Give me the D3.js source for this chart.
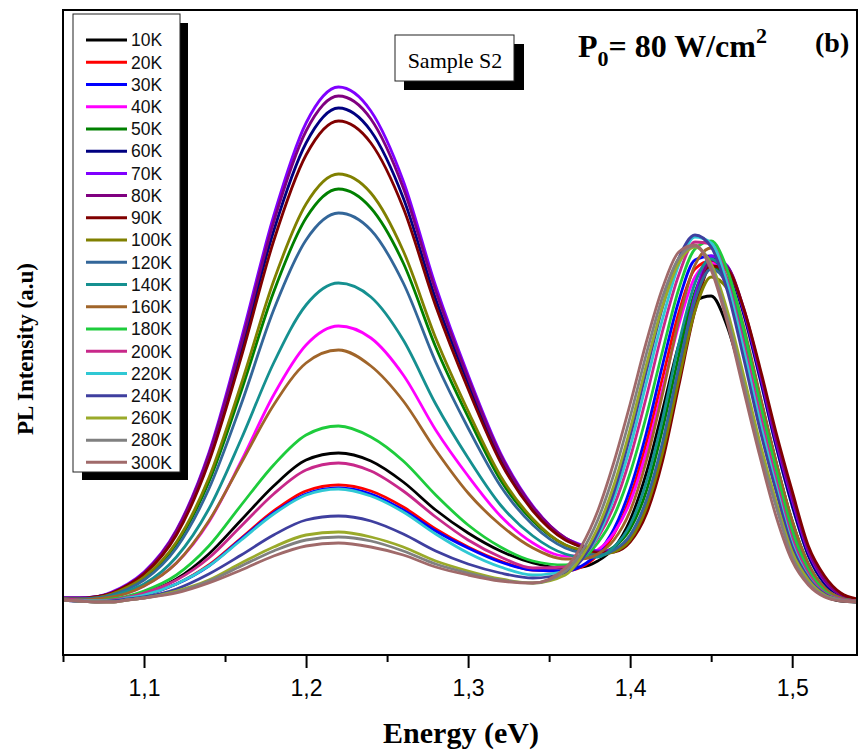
<!DOCTYPE html>
<html><head><meta charset="utf-8">
<script src="https://cdn.jsdelivr.net/npm/d3@7"></script>
<style>body{margin:0;background:#fff} svg{display:block}</style>
</head><body>
<svg id="chart" width="858" height="752"></svg>
<script>
// Photon energy grid (eV)
const energy = [1.05,1.06,1.07,1.08,1.09,1.10,1.12,1.14,1.16,1.18,1.20,1.22,1.24,1.26,1.28,1.30,1.32,1.34,1.36,1.37,1.38,1.39,1.40,1.41,1.42,1.43,1.44,1.45,1.46,1.47,1.48,1.49,1.50,1.51,1.52,1.53,1.54];

// PL intensity (a.u.) per temperature
const s10K  = [0.03,0.02,0.01,0.02,0.05,0.09,0.23,0.48,0.82,1.16,1.42,1.49,1.41,1.20,0.92,0.69,0.51,0.39,0.34,0.35,0.41,0.54,0.82,1.29,1.92,2.57,3.01,3.06,2.75,2.19,1.55,0.98,0.48,0.19,0.06,0.01,0.00];
const s20K  = [0.02,0.01,0.01,0.02,0.04,0.07,0.18,0.37,0.64,0.91,1.11,1.17,1.11,0.95,0.73,0.55,0.41,0.32,0.31,0.35,0.47,0.68,1.05,1.59,2.24,2.89,3.33,3.41,3.14,2.59,1.93,1.29,0.72,0.33,0.12,0.04,0.01];
const s30K  = [0.02,0.01,0.01,0.02,0.04,0.07,0.18,0.36,0.63,0.89,1.08,1.14,1.08,0.92,0.71,0.54,0.40,0.32,0.31,0.36,0.49,0.73,1.13,1.69,2.37,3.01,3.42,3.46,3.13,2.56,1.88,1.24,0.66,0.30,0.11,0.03,0.01];
const s40K  = [0.03,0.02,0.02,0.05,0.09,0.16,0.39,0.80,1.41,2.07,2.57,2.76,2.64,2.27,1.72,1.26,0.86,0.59,0.46,0.46,0.52,0.69,1.00,1.50,2.13,2.77,3.25,3.39,3.15,2.62,1.95,1.31,0.72,0.33,0.12,0.04,0.01];
const s50K  = [0.03,0.03,0.04,0.08,0.14,0.24,0.58,1.20,2.11,3.10,3.84,4.13,3.94,3.39,2.55,1.85,1.22,0.81,0.57,0.51,0.49,0.55,0.73,1.11,1.73,2.46,3.10,3.36,3.19,2.71,2.06,1.40,0.81,0.38,0.14,0.04,0.01];
const s60K  = [0.04,0.04,0.05,0.09,0.17,0.28,0.69,1.43,2.52,3.71,4.59,4.94,4.71,4.04,3.03,2.19,1.43,0.93,0.63,0.55,0.50,0.52,0.63,0.94,1.50,2.29,3.03,3.43,3.33,2.88,2.24,1.56,0.96,0.46,0.18,0.05,0.01];
const s70K  = [0.04,0.04,0.05,0.10,0.18,0.30,0.72,1.49,2.63,3.86,4.79,5.15,4.91,4.21,3.16,2.27,1.49,0.96,0.64,0.57,0.51,0.52,0.63,0.95,1.51,2.31,3.06,3.46,3.36,2.92,2.29,1.61,1.02,0.50,0.21,0.07,0.02];
const s80K  = [0.04,0.04,0.05,0.09,0.17,0.29,0.71,1.47,2.58,3.80,4.71,5.06,4.83,4.14,3.11,2.24,1.47,0.95,0.64,0.56,0.50,0.52,0.62,0.92,1.47,2.24,3.00,3.42,3.35,2.94,2.32,1.64,1.05,0.52,0.22,0.07,0.02];
const s90K  = [0.03,0.03,0.05,0.09,0.17,0.28,0.67,1.40,2.45,3.61,4.47,4.81,4.59,3.94,2.96,2.13,1.40,0.91,0.62,0.55,0.49,0.50,0.60,0.88,1.41,2.16,2.91,3.36,3.32,2.94,2.35,1.70,1.11,0.56,0.26,0.09,0.03];
const s100K = [0.03,0.03,0.04,0.08,0.15,0.25,0.60,1.24,2.18,3.21,3.98,4.28,4.09,3.51,2.64,1.91,1.26,0.83,0.57,0.52,0.47,0.50,0.62,0.94,1.49,2.22,2.91,3.25,3.13,2.67,2.05,1.39,0.81,0.37,0.14,0.04,0.01];
const s120K = [0.03,0.03,0.04,0.07,0.13,0.22,0.54,1.13,1.98,2.92,3.62,3.89,3.72,3.19,2.40,1.74,1.16,0.77,0.54,0.49,0.47,0.52,0.67,1.02,1.60,2.35,3.02,3.33,3.18,2.70,2.05,1.39,0.79,0.36,0.13,0.04,0.01];
const s140K = [0.03,0.02,0.03,0.06,0.11,0.18,0.45,0.93,1.63,2.39,2.97,3.19,3.05,2.62,1.98,1.44,0.97,0.66,0.48,0.45,0.45,0.55,0.77,1.20,1.83,2.58,3.19,3.43,3.23,2.73,2.06,1.40,0.80,0.37,0.14,0.04,0.01];
const s160K = [0.03,0.02,0.03,0.05,0.09,0.16,0.39,0.81,1.39,1.97,2.39,2.52,2.36,2.01,1.52,1.09,0.77,0.54,0.43,0.43,0.48,0.62,0.91,1.41,2.08,2.82,3.37,3.54,3.30,2.76,2.08,1.41,0.81,0.38,0.14,0.04,0.01];
const s180K = [0.03,0.02,0.01,0.03,0.06,0.11,0.27,0.56,0.97,1.37,1.67,1.76,1.65,1.41,1.07,0.77,0.55,0.41,0.37,0.43,0.59,0.86,1.29,1.86,2.51,3.13,3.53,3.61,3.32,2.73,2.00,1.33,0.71,0.32,0.11,0.03,0.01];
const s200K = [0.03,0.02,0.01,0.02,0.05,0.09,0.22,0.44,0.76,1.08,1.32,1.39,1.31,1.11,0.85,0.62,0.45,0.34,0.35,0.44,0.64,0.96,1.44,2.05,2.71,3.27,3.60,3.58,3.21,2.59,1.88,1.22,0.63,0.28,0.09,0.03,0.01];
const s220K = [0.02,0.01,0.01,0.01,0.04,0.07,0.18,0.36,0.62,0.88,1.07,1.13,1.06,0.90,0.68,0.49,0.35,0.27,0.31,0.43,0.66,1.04,1.55,2.19,2.83,3.37,3.65,3.59,3.18,2.53,1.81,1.16,0.58,0.25,0.08,0.02,0.00];
const s240K = [0.02,0.01,0.00,0.01,0.03,0.05,0.13,0.28,0.47,0.67,0.82,0.86,0.81,0.68,0.51,0.38,0.29,0.24,0.29,0.42,0.69,1.10,1.66,2.31,2.95,3.44,3.67,3.55,3.11,2.44,1.73,1.11,0.55,0.24,0.08,0.02,0.00];
const s260K = [0.02,0.01,0.00,0.00,0.02,0.04,0.11,0.22,0.39,0.55,0.67,0.70,0.65,0.55,0.41,0.31,0.23,0.19,0.27,0.45,0.74,1.17,1.73,2.37,2.96,3.39,3.55,3.38,2.91,2.27,1.60,1.01,0.50,0.22,0.07,0.02,0.00];
const s280K = [0.02,0.01,0.00,0.00,0.02,0.04,0.10,0.21,0.36,0.51,0.62,0.65,0.61,0.51,0.38,0.29,0.22,0.19,0.31,0.50,0.82,1.28,1.85,2.48,3.05,3.44,3.56,3.35,2.84,2.19,1.52,0.96,0.45,0.19,0.06,0.02,0.00];
const s300K = [0.02,0.01,0.00,0.00,0.02,0.04,0.09,0.19,0.32,0.46,0.56,0.59,0.55,0.47,0.35,0.27,0.21,0.19,0.34,0.56,0.91,1.40,1.98,2.60,3.14,3.50,3.57,3.32,2.79,2.12,1.46,0.86,0.41,0.17,0.05,0.01,0.00];

const seriesLabels = ["10K","20K","30K","40K","50K","60K","70K","80K","90K","100K","120K","140K","160K","180K","200K","220K","240K","260K","280K","300K"];
const seriesColors = ["#000000","#FF0000","#0000FF","#FF00FF","#008000","#000080","#8000FF","#800080","#800000","#808000","#336699","#159090","#A0652A","#1ECC3C","#C8288A","#30C8D4","#3F3F9F","#9AAA2A","#808080","#A06A6A"];
const xMajorTicks = [1.1,1.2,1.3,1.4,1.5];
const xMinorTicks = [1.05,1.15,1.25,1.35,1.45];

const seriesValues = [s10K,s20K,s30K,s40K,s50K,s60K,s70K,s80K,s90K,s100K,s120K,s140K,s160K,s180K,s200K,s220K,s240K,s260K,s280K,s300K];

const svg = d3.select("#chart");
const L = 63, R = 857, T = 10, B = 655;
const x = d3.scaleLinear().domain([1.05, 1.54]).range([L, R]);
const y = d3.scaleLinear().domain([-0.53, 5.92]).range([B, T]);

svg.append("rect").attr("width",858).attr("height",752).attr("fill","#fff");

svg.append("clipPath").attr("id","plotclip").append("rect")
  .attr("x",L).attr("y",T).attr("width",R-L).attr("height",B-T);

const line = d3.line().x((d,i)=>x(energy[i])).y(d=>y(d)).curve(d3.curveMonotoneX);

const g = svg.append("g").attr("clip-path","url(#plotclip)");
seriesValues.forEach((vals,k)=>{
  g.append("path").datum(vals).attr("d",line)
    .attr("fill","none").attr("stroke",seriesColors[k]).attr("stroke-width",2.8)
    .attr("stroke-linejoin","round");
});

// frame
svg.append("rect").attr("x",L).attr("y",T).attr("width",R-L).attr("height",B-T)
  .attr("fill","none").attr("stroke","#000").attr("stroke-width",2);

// x axis
const fmt = d => d3.format(".1f")(d).replace(".", ",");
const ax = svg.append("g").attr("transform",`translate(0,${B})`)
  .call(d3.axisBottom(x).tickValues(xMajorTicks).tickSize(13).tickPadding(12).tickFormat(fmt));
ax.select(".domain").remove();
ax.selectAll("line").attr("stroke","#000").attr("stroke-width",2);
ax.selectAll("text").attr("font-family","'Liberation Sans', Arial, sans-serif").attr("font-size",23).attr("fill","#000");
const axm = svg.append("g").attr("transform",`translate(0,${B})`)
  .call(d3.axisBottom(x).tickValues(xMinorTicks).tickSize(7).tickFormat(""));
axm.select(".domain").remove();
axm.selectAll("line").attr("stroke","#000").attr("stroke-width",2);

// axis titles
svg.append("text").attr("x",461).attr("y",743).attr("text-anchor","middle")
  .attr("font-family","'Liberation Serif', 'Times New Roman', serif").attr("font-weight","bold").attr("font-size",30)
  .text("Energy (eV)");
svg.append("text").attr("transform","translate(33,349) rotate(-90)").attr("text-anchor","middle")
  .attr("font-family","'Liberation Serif', 'Times New Roman', serif").attr("font-weight","bold").attr("font-size",23)
  .text("PL Intensity (a.u)");

// legend
const lg = svg.append("g");
lg.append("rect").attr("x",82).attr("y",23).attr("width",106).attr("height",457).attr("fill","#000");
lg.append("rect").attr("x",73).attr("y",14).attr("width",107).attr("height",458).attr("fill","#fff").attr("stroke","#222").attr("stroke-width",1);
seriesLabels.forEach((lab,k)=>{
  const yy = 40 + k*22.23;
  lg.append("line").attr("x1",86).attr("x2",127).attr("y1",yy).attr("y2",yy)
    .attr("stroke",seriesColors[k]).attr("stroke-width",3);
  lg.append("text").attr("x",131).attr("y",yy).attr("dy","0.36em")
    .attr("font-family","'Liberation Sans', Arial, sans-serif").attr("font-size",17.5).attr("fill","#111")
    .text(lab);
});

// Sample box
svg.append("rect").attr("x",404).attr("y",44).attr("width",120).attr("height",46).attr("fill","#000");
svg.append("rect").attr("x",395).attr("y",35).attr("width",119).attr("height",46).attr("fill","#fff").attr("stroke","#222").attr("stroke-width",1);
svg.append("text").attr("x",455).attr("y",68).attr("text-anchor","middle")
  .attr("font-family","'Liberation Serif', 'Times New Roman', serif").attr("font-size",22).text("Sample S2");

// power label
const pt = svg.append("text").attr("x",578).attr("y",57)
  .attr("font-family","'Liberation Serif', 'Times New Roman', serif").attr("font-weight","bold").attr("font-size",32);
pt.append("tspan").text("P");
pt.append("tspan").attr("font-size",22).attr("dy",9).text("0");
pt.append("tspan").attr("dy",-9).text("= 80 W/cm");
pt.append("tspan").attr("font-size",22).attr("dy",-14).text("2");

svg.append("text").attr("x",815).attr("y",52)
  .attr("font-family","'Liberation Serif', 'Times New Roman', serif").attr("font-weight","bold").attr("font-size",28).text("(b)");
</script>
</body></html>
